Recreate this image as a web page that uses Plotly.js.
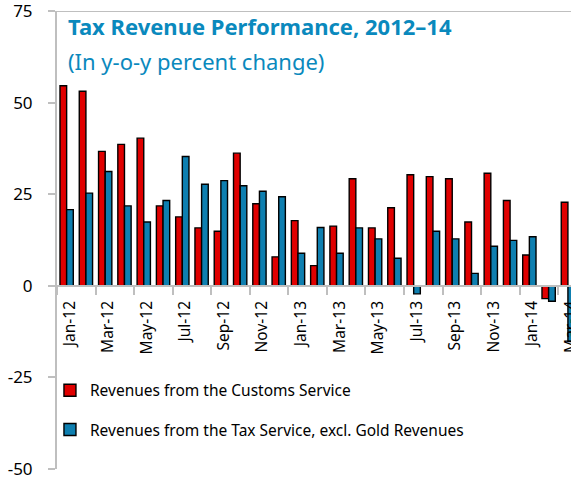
<!DOCTYPE html>
<html>
<head>
<meta charset="utf-8">
<script src="https://cdn.plot.ly/plotly-3.0.1.min.js"></script>
<style>html,body{margin:0;padding:0;background:#fff;}#chart{width:571px;height:487px;}</style>
</head>
<body>
<div id="chart"></div>
<script>
const months = ["Jan-12","Feb-12","Mar-12","Apr-12","May-12","Jun-12","Jul-12","Aug-12","Sep-12","Oct-12","Nov-12","Dec-12",
                "Jan-13","Feb-13","Mar-13","Apr-13","May-13","Jun-13","Jul-13","Aug-13","Sep-13","Oct-13","Nov-13","Dec-13",
                "Jan-14","Feb-14","Mar-14"];
const customs = [54.6, 53.1, 36.7, 38.6, 40.3, 21.8, 18.8, 15.8, 14.9, 36.2, 22.4, 7.9,
                 17.8, 5.5, 16.3, 29.2, 15.8, 21.3, 30.3, 29.8, 29.2, 17.4, 30.7, 23.3,
                 8.4, -3.5, 22.8];
const taxService = [20.8, 25.3, 31.2, 21.8, 17.4, 23.3, 35.3, 27.7, 28.7, 27.3, 25.8, 24.3,
                    8.9, 15.9, 8.9, 15.8, 12.8, 7.5, -2.2, 14.9, 12.8, 3.4, 10.8, 12.4,
                    13.4, -4.2, -15.2];
const seriesNames = ["Revenues from the Customs Service", "Revenues from the Tax Service, excl. Gold Revenues"];
const yTicks = [-50, -25, 0, 25, 50, 75];

const FONT = "'Noto Sans', 'Open Sans', sans-serif";
const GRAY = "#bfbfbf";

const traces = [
  {type:"bar", x: months, y: customs, name: seriesNames[0], legendgroup:"a",
   marker:{color:"#e00000", line:{color:"#000", width:1.4}}},
  {type:"bar", x: months, y: taxService, name: seriesNames[1], legendgroup:"b",
   marker:{color:"#0e7fb0", line:{color:"#000", width:1.4}}}
];

const layout = {
  width: 571, height: 487,
  margin: {l:57, r:0, t:11, b:18, pad:0},
  paper_bgcolor:"#fff", plot_bgcolor:"#fff",
  font:{family: FONT, color:"#000"},
  barmode:"group", bargap:0.31, bargroupgap:0,
  showlegend:true,
  legend:{x:-0.0137, xanchor:"left", y:0.208, yanchor:"top", bgcolor:"rgba(0,0,0,0)",
          font:{size:15.5, color:"#000", family:FONT}, tracegroupgap:16, traceorder:"grouped"},
  xaxis:{type:"category", range:[-0.5, 26.16], anchor:"free", position:0.4,
         showline:true, linecolor:GRAY, linewidth:2,
         ticks:"outside", ticklen:8, tickcolor:GRAY, tickwidth:2, tickson:"boundaries",
         dtick:2, tick0:0, tickangle:-90, showgrid:false, zeroline:false,
         ticklabelstandoff:8, ticklabelshift:3, ticklabeloverflow:"allow",
         tickfont:{size:15.5, color:"#000", family:FONT}},
  yaxis:{range:[-50,75], tickvals:yTicks, ticktext:yTicks.map(String),
         showline:true, linecolor:GRAY, linewidth:2,
         ticks:"outside", ticklen:7, tickcolor:GRAY, tickwidth:2,
         showgrid:false, zeroline:false, ticklabelstandoff:12, ticklabeloverflow:"allow",
         tickfont:{size:17, color:"#000", family:FONT}},
  shapes:[{type:"line", xref:"paper", yref:"y", x0:0, x1:1, y0:75, y1:75,
           line:{color:GRAY, width:2}}],
  annotations:[
    {text:"<b>Tax Revenue Performance, 2012–14</b>", xref:"paper", yref:"paper",
     x:0.018, y:1.004, xanchor:"left", yanchor:"top", showarrow:false,
     font:{size:22, color:"#0a89bd", family:FONT}},
    {text:"(In y-o-y percent change)", xref:"paper", yref:"paper",
     x:0.018, y:0.929, xanchor:"left", yanchor:"top", showarrow:false,
     font:{size:22, color:"#0a89bd", family:FONT}}
  ]
};

Plotly.newPlot("chart", traces, layout, {displayModeBar:false, responsive:false});
</script>
</body>
</html>
